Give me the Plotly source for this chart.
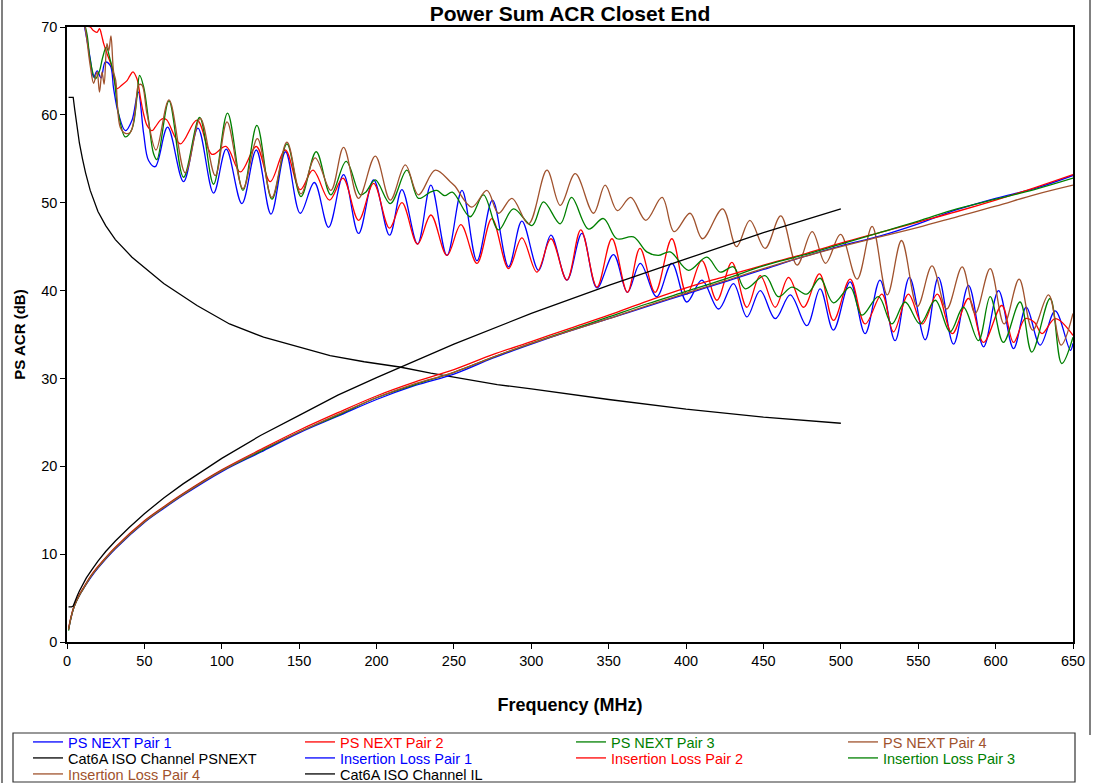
import plotly.graph_objects as go

# ---------------- data ----------------
psnext_pair1 = [(1, 80), (5, 76), (9, 72), (11.8, 69.6), (15, 66.4), (17.2, 64.3), (19.5, 65.0), (22, 64.2),
                (24.7, 66.0), (28, 65.6), (30.1, 63.0), (33.3, 60.1), (37.7, 58.2), (42, 59.4), (46, 62.6),
                (49.5, 57.9), (52.7, 54.8), (57, 54.1), (65, 58.6), (75.3, 52.4), (84.6, 58.5), (94.7, 51.1),
                (102.9, 56.1), (113, 49.9), (122.3, 56.0), (131.8, 48.7), (141.2, 55.8), (150.7, 48.8),
                (159.8, 52.3), (169, 47.2), (178.7, 53.2), (188.4, 46.5), (198.1, 52.6), (208.4, 46.3),
                (216.4, 51.5), (226.5, 45.3), (235.1, 52.0), (245.5, 44.0), (255.2, 51.4), (264.9, 43.4),
                (274.9, 50.3), (285.3, 42.7), (293.9, 47.9), (304.7, 42.3), (312.7, 46.3), (323, 41.2),
                (332.7, 46.5), (342.4, 40.3), (353.1, 44.1), (362.1, 39.8), (370.4, 43.1), (381, 39.3),
                (390.8, 43.1), (400.5, 38.7), (410.2, 41.2), (421, 37.9), (430.6, 40.8), (439.3, 37.0),
                (447.9, 40.0), (457.6, 36.8), (467.3, 39.5), (478, 36.0), (486.6, 40.2), (495.2, 35.5),
                (506, 41.0), (515.7, 35.1), (525.3, 41.2), (535, 34.3), (544.3, 41.5), (554.5, 34.4),
                (563, 41.5), (572.8, 33.9), (582.5, 40.6), (592.2, 33.6), (601.9, 40.0), (611.6, 33.4),
                (619.8, 38.1), (628.8, 33.8), (638.5, 37.7), (648.3, 33.2), (650, 34.0)]

psnext_pair2 = [(1, 80), (5, 76), (9, 72.5), (11.3, 70.2), (15, 70.0), (17, 69.6), (19.4, 69.4), (21, 69.8),
                (22.6, 68.9), (23.7, 68.1), (25.8, 67.0), (29.1, 65.4), (32.3, 63.0), (35.5, 63.4), (38.8, 63.9),
                (40.5, 64.4), (42.6, 64.9), (45.2, 64.1), (47.4, 62.0), (49.5, 60.1), (51.7, 58.8), (54.9, 58.2),
                (57, 58.6), (60.3, 59.4), (62.4, 59.6), (64.6, 59.4), (73.2, 56.7), (84, 59.4), (93.7, 55.5),
                (102.7, 56.4), (112, 53.5), (122.3, 56.4), (131.3, 52.4), (141, 56.0), (150.7, 51.5),
                (158.9, 53.7), (169.6, 50.3), (178.3, 52.8), (188.4, 48.0), (198.1, 52.2), (208.4, 47.1),
                (216.4, 50.0), (226.5, 45.3), (235.1, 48.6), (245.5, 44.0), (254.5, 47.5), (264.9, 43.1),
                (274.5, 48.2), (285.3, 42.5), (293.9, 46.0), (303.6, 42.1), (312.7, 45.9), (323, 41.2),
                (332, 46.9), (342.4, 40.4), (352.1, 45.9), (362.1, 39.8), (370.2, 44.8), (380, 39.8),
                (390.8, 45.9), (400.5, 39.6), (410.2, 43.4), (419.9, 38.9), (429.6, 43.2), (439.3, 38.1),
                (447.9, 41.7), (457.6, 38.1), (466.2, 41.5), (475.9, 38.1), (486.2, 41.9), (495.2, 36.6),
                (506, 41.3), (515.7, 36.2), (526.5, 39.6), (534, 35.3), (543.7, 39.6), (552.7, 36.2),
                (562.3, 39.6), (572, 35.1), (582.5, 39.1), (592.2, 34.1), (604, 38.3), (611.6, 34.1),
                (619.1, 36.8), (625, 36.4), (630, 35.1), (638.5, 36.8), (650, 34.9)]

psnext_pair3 = [(1, 80), (5, 76), (9, 72), (12.9, 69.2), (15, 66.2), (18.3, 64.1), (21, 65.0), (23, 66.5),
                (25.4, 67.7), (28, 66.2), (30.1, 64.7), (33.3, 60.1), (37.7, 57.5), (42, 58.4), (45.2, 62.0),
                (46.9, 64.5), (49.5, 63.2), (52.7, 59.4), (55.9, 55.6), (58.1, 54.9), (65.9, 61.6), (75.3, 52.9),
                (85.7, 59.7), (94.7, 52.1), (103.7, 60.2), (113.7, 51.4), (122.7, 58.8), (132.4, 50.4),
                (142.1, 56.7), (151.2, 50.7), (161, 55.8), (170.5, 50.9), (180.4, 54.7), (189.5, 50.9),
                (193, 51.2), (199.2, 52.6), (208.9, 49.9), (219.6, 53.7), (227.1, 50.5), (234.7, 51.2),
                (239, 51.4), (244, 50.8), (249, 51.2), (260.5, 48.4), (269.1, 50.9), (278.8, 46.9),
                (288.5, 49.3), (300.4, 47.4), (307.9, 50.1), (318.7, 47.6), (326, 50.6), (337, 47.0),
                (346.6, 48.2), (355.3, 45.9), (366, 46.1), (374.6, 44.4), (382, 44.0), (389.7, 44.4),
                (401.6, 42.3), (413.4, 43.8), (422, 42.1), (430.6, 42.7), (438.2, 40.2), (451, 41.7),
                (459.7, 39.3), (468.4, 40.4), (478, 39.6), (486.6, 41.4), (495.2, 38.6), (506, 40.4),
                (513.6, 37.2), (524.3, 39.3), (533, 36.2), (541.5, 38.7), (551.2, 36.2), (561, 38.9),
                (570.6, 35.3), (579.2, 38.1), (588.9, 34.3), (596.5, 39.3), (605, 34.1), (615.8, 38.7),
                (623.4, 33.0), (635.2, 39.1), (642.7, 31.7), (650, 34.7)]

psnext_pair4 = [(1, 80), (5, 76), (9, 72), (11.8, 69.8), (15, 65.6), (17.2, 63.6), (19.4, 64.9), (21, 62.6),
                (22.6, 64.9), (24, 63.5), (25.8, 68.1), (27, 67.3), (28.4, 69.0), (30.1, 64.9), (31.5, 63.9),
                (34.4, 58.6), (37.7, 57.9), (40.9, 58.0), (44.1, 60.5), (46.3, 63.4), (48.4, 63.4), (51.7, 60.1),
                (57.5, 56.0), (65.9, 61.7), (76.4, 53.4), (86.1, 59.6), (95.8, 53.1), (103.4, 59.2),
                (113.7, 51.6), (123, 57.3), (132.4, 50.6), (142.1, 56.9), (151.2, 51.0), (160.3, 55.1),
                (170.5, 51.4), (178.7, 56.3), (188.4, 50.5), (199.2, 55.3), (208.9, 50.3), (218.6, 54.3),
                (227.1, 50.9), (237.9, 53.7), (247.6, 52.4), (250.6, 51.9), (261.6, 49.5), (271.3, 51.4),
                (278.8, 48.8), (287.5, 50.5), (298.2, 47.6), (310.1, 53.7), (318.7, 49.7), (328.4, 53.3),
                (340.2, 48.8), (347.7, 52.0), (355.6, 49.1), (364.2, 50.6), (374, 48.0), (384.5, 50.6),
                (392.3, 46.7), (402.6, 48.8), (410.6, 45.9), (423.6, 49.3), (432.6, 45.0), (441.2, 48.0),
                (451, 44.8), (461.2, 48.5), (471.7, 42.9), (481.5, 46.7), (490.1, 43.1), (499.8, 46.4),
                (510.5, 41.3), (520.2, 47.3), (530, 39.5), (539.2, 45.7), (549.5, 38.2), (558.9, 42.8),
                (568.4, 37.9), (578.4, 42.7), (586.8, 37.4), (596.5, 42.5), (605.5, 36.2), (615.2, 41.3),
                (623.9, 35.5), (634.2, 39.5), (642.3, 33.8), (650, 37.4)]

psnext_limit_freq = [1, 2, 3, 4, 5, 6.5, 8, 10, 12, 15, 17.5, 20, 25, 31.25, 42, 50, 62.5, 84, 105, 127,
                     150, 170, 192, 215, 235, 256, 278, 300, 350, 400, 450, 500]
psnext_limit = [62, 62, 62, 62, 60.6, 58.5, 56.8, 55.0, 53.4, 51.4, 50.1, 49.0, 47.4, 45.8, 43.8, 42.6,
                40.8, 38.3, 36.2, 34.7, 33.6, 32.6, 31.9, 31.3, 30.6, 30.0, 29.3, 28.8, 27.6, 26.5, 25.6, 24.9]

il_freq = [1, 2, 4, 6, 8, 10, 16, 20, 31.25, 50, 62.5, 75, 100, 125, 150, 175, 200, 225, 250, 275, 300,
           325, 350, 375, 400, 425, 450, 475, 500, 525, 550, 575, 600, 625, 650]
il_pair1 = [1.4, 2.3, 3.7, 4.6, 5.3, 5.9, 7.5, 8.4, 10.6, 13.6, 15.2, 16.7, 19.4, 21.6, 23.8, 25.7, 27.6,
            29.2, 30.5, 32.3, 33.9, 35.4, 36.8, 38.2, 39.6, 41.0, 42.4, 43.8, 45.1, 46.2, 47.6, 49.2, 50.5,
            51.6, 53.1]
il_pair2 = [1.5, 2.4, 3.8, 4.7, 5.4, 6.0, 7.7, 8.6, 10.8, 13.8, 15.4, 16.9, 19.6, 21.9, 24.1, 26.1, 28.0,
            29.6, 31.0, 32.7, 34.2, 35.7, 37.2, 38.8, 40.3, 41.6, 42.9, 44.1, 45.4, 46.6, 47.8, 49.0, 50.3,
            51.7, 53.2]
il_pair3 = [1.3, 2.3, 3.7, 4.6, 5.3, 5.9, 7.6, 8.5, 10.7, 13.7, 15.3, 16.8, 19.5, 21.7, 23.9, 25.8, 27.8,
            29.3, 30.7, 32.4, 34.0, 35.5, 37.0, 38.5, 39.9, 41.3, 42.8, 44.0, 45.3, 46.6, 47.9, 49.3, 50.4,
            51.5, 52.8]
il_pair4 = [1.4, 2.3, 3.7, 4.6, 5.3, 5.9, 7.6, 8.5, 10.7, 13.7, 15.3, 16.8, 19.5, 21.8, 23.9, 25.9, 27.8,
            29.4, 30.7, 32.4, 34.0, 35.4, 36.8, 38.3, 39.7, 41.1, 42.5, 43.8, 45.0, 46.1, 47.2, 48.4, 49.6,
            50.9, 52.0]

il_limit_freq = [1, 2, 3, 4, 5, 6.5, 8, 10, 12.5, 16, 20, 25, 31.25, 40, 50, 62.5, 75, 100, 125, 150, 175,
                 200, 225, 250, 300, 350, 400, 450, 500]
il_limit = [4.0, 4.0, 4.0, 4.1, 4.6, 5.2, 5.8, 6.5, 7.3, 8.2, 9.2, 10.3, 11.5, 13.0, 14.6, 16.4, 18.0,
            20.9, 23.5, 25.8, 28.1, 30.1, 32.0, 33.9, 37.4, 40.6, 43.6, 46.6, 49.3]

x_ticks = list(range(0, 651, 50))
y_ticks = list(range(0, 71, 10))

BLUE, RED, GREEN, BROWN, BLACK = "#0000FF", "#FF0000", "#008000", "#A0522D", "#000000"
FONT = "Liberation Sans, Arial, Helvetica, sans-serif"

W, H = 1093, 783
L, R, T, B = 67, 20, 27, 141
pw, ph = W - L - R, H - T - B


def px(x):
    return (x - L) / pw


def py(y):
    return (H - B - y) / ph


# legend grid: 4 columns x 3 rows (row-major order, as in the reference)
LEG_COL_X = [28, 300, 571, 843]
LEG_ROW_Y = [742, 758, 774]

fig = go.Figure()
legend_layouts = {}
slot = 0


def add(xs, ys, name, color, shape="spline"):
    global slot
    row, col = divmod(slot, 4)
    key = "legend" if slot == 0 else f"legend{slot + 1}"
    legend_layouts[key] = dict(orientation="h", x=px(LEG_COL_X[col]), y=py(LEG_ROW_Y[row]),
                               xanchor="left", yanchor="middle", font=dict(size=14.5, family=FONT),
                               bgcolor="rgba(0,0,0,0)", borderwidth=0, itemwidth=30)
    fig.add_trace(go.Scatter(
        x=xs, y=ys, mode="lines", name=f"<span style='color:{color}'>{name}</span>",
        line=dict(color=color, width=1.3, shape=shape), hoverinfo="skip", legend=key))
    slot += 1


for data, name, col in [(psnext_pair1, "PS NEXT Pair 1", BLUE), (psnext_pair2, "PS NEXT Pair 2", RED),
                        (psnext_pair3, "PS NEXT Pair 3", GREEN), (psnext_pair4, "PS NEXT Pair 4", BROWN)]:
    add([p[0] for p in data], [p[1] for p in data], name, col)

add(psnext_limit_freq, psnext_limit, "Cat6A ISO Channel PSNEXT", BLACK, "linear")
add(il_freq, il_pair1, "Insertion Loss Pair 1", BLUE)
add(il_freq, il_pair2, "Insertion Loss Pair 2", RED)
add(il_freq, il_pair3, "Insertion Loss Pair 3", GREEN)
add(il_freq, il_pair4, "Insertion Loss Pair 4", BROWN)
add(il_limit_freq, il_limit, "Cat6A ISO Channel IL", BLACK, "linear")

fig.update_layout(
    width=W, height=H,
    margin=dict(l=L, r=R, t=T, b=B, autoexpand=False),
    paper_bgcolor="white", plot_bgcolor="white",
    font=dict(family=FONT, size=14.5, color="black"),
    title=dict(text="<b>Power Sum ACR Closet End</b>", font=dict(size=21, family=FONT),
               x=0.5, xref="paper", y=1 - 14 / H, yref="container", yanchor="middle"),
    showlegend=True,
    xaxis=dict(range=[0, 650], tickvals=x_ticks, ticks="outside", ticklen=5, tickcolor="black",
               showline=True, linecolor="black", linewidth=1.5, mirror=True, showgrid=False,
               zeroline=False, tickfont=dict(size=14.5),
               title=dict(text="<b>Frequency (MHz)</b>", font=dict(size=18), standoff=30)),
    yaxis=dict(range=[0, 70], tickvals=y_ticks, ticks="outside", ticklen=5, tickcolor="black",
               showline=True, linecolor="black", linewidth=1.5, mirror=True, showgrid=False,
               zeroline=False, tickfont=dict(size=14.5),
               title=dict(text="<b>PS ACR (dB)</b>", font=dict(size=15), standoff=12)),
    shapes=[
        dict(type="rect", xref="paper", yref="paper", x0=px(13), x1=px(1075), y0=py(782), y1=py(733),
             line=dict(color="#333333", width=1.2), fillcolor="rgba(0,0,0,0)", layer="below"),
        dict(type="line", xref="paper", yref="paper", x0=px(2), x1=px(2), y0=py(0), y1=py(783),
             line=dict(color="#808080", width=2)),
        dict(type="line", xref="paper", yref="paper", x0=px(1090), x1=px(1090), y0=py(0), y1=py(735),
             line=dict(color="#808080", width=2)),
    ],
    **legend_layouts,
)

fig.write_html("out.html", config={"displayModeBar": False},
               post_script="document.body.style.margin='0px';")
